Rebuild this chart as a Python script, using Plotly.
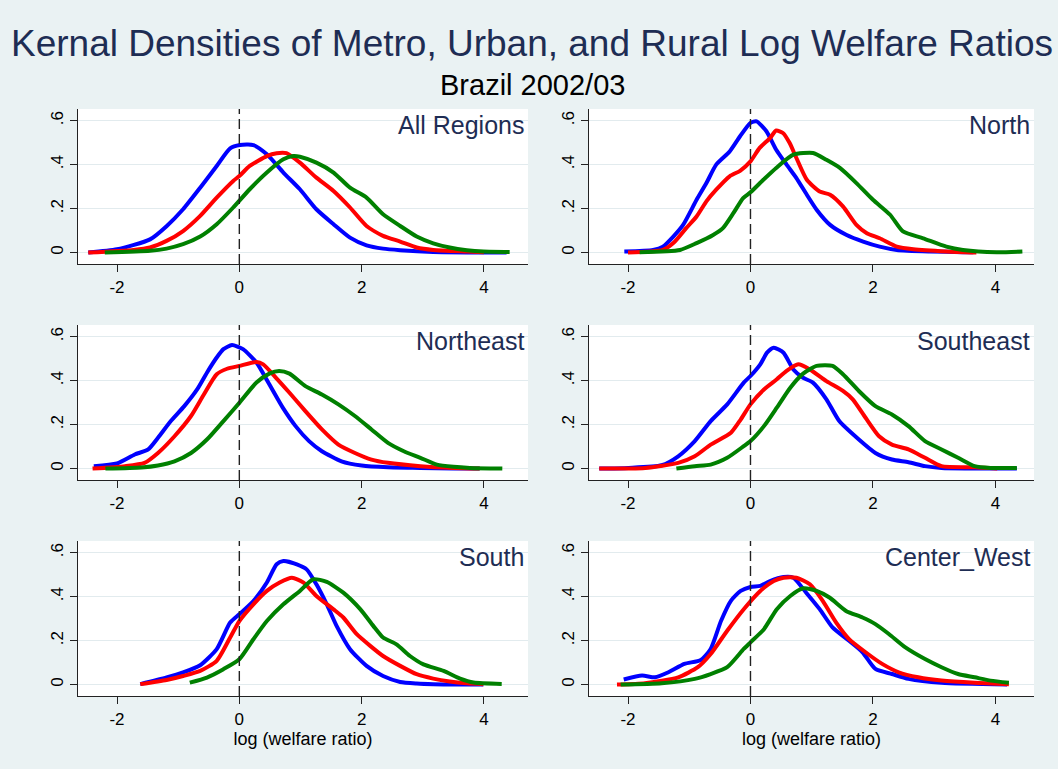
import plotly.graph_objects as go

# ---- data (x = log welfare ratio, y = density) ----
# All Regions
all_metro_x = [-2.47, -2.0, -1.46, -1.19, -0.92, -0.64, -0.37, -0.15, 0.01, 0.23, 0.45, 0.72, 0.99, 1.26, 1.54, 1.81, 2.08, 2.35, 2.63, 3.17, 4.37]
all_metro_y = [0.0, 0.015, 0.06, 0.12, 0.197, 0.295, 0.394, 0.474, 0.489, 0.489, 0.447, 0.364, 0.288, 0.197, 0.129, 0.068, 0.033, 0.018, 0.011, 0.003, 0.0]
all_urban_x = [-2.47, -1.73, -1.46, -1.19, -0.92, -0.64, -0.37, -0.1, 0.0, 0.17, 0.45, 0.61, 0.77, 0.99, 1.26, 1.54, 1.81, 2.08, 2.35, 2.63, 2.9, 3.17, 3.72, 4.0]
all_urban_y = [0.0, 0.012, 0.023, 0.053, 0.098, 0.167, 0.25, 0.326, 0.348, 0.394, 0.439, 0.452, 0.452, 0.409, 0.341, 0.28, 0.205, 0.121, 0.076, 0.05, 0.023, 0.012, 0.005, 0.002]
all_rural_x = [-2.2, -1.46, -1.19, -0.92, -0.64, -0.37, -0.1, 0.17, 0.45, 0.72, 0.88, 0.99, 1.26, 1.54, 1.81, 2.08, 2.35, 2.63, 2.9, 3.17, 3.44, 3.72, 3.99, 4.42]
all_rural_y = [0.0, 0.008, 0.018, 0.038, 0.073, 0.129, 0.205, 0.288, 0.364, 0.424, 0.439, 0.436, 0.409, 0.364, 0.295, 0.25, 0.174, 0.121, 0.073, 0.042, 0.023, 0.011, 0.005, 0.003]

# North
north_metro_x = [-2.06, -1.59, -1.43, -1.26, -1.1, -0.88, -0.72, -0.56, -0.34, -0.17, 0.0, 0.1, 0.26, 0.42, 0.59, 0.75, 0.92, 1.08, 1.3, 1.57, 1.84, 2.11, 2.39, 2.93, 3.47, 3.64]
north_metro_y = [0.005, 0.012, 0.027, 0.073, 0.126, 0.24, 0.316, 0.4, 0.46, 0.529, 0.59, 0.597, 0.552, 0.468, 0.4, 0.339, 0.263, 0.195, 0.126, 0.08, 0.05, 0.027, 0.012, 0.005, 0.002, 0.001]
north_urban_x = [-2.0, -1.43, -1.26, -1.05, -0.88, -0.72, -0.56, -0.34, -0.17, 0.0, 0.15, 0.32, 0.42, 0.53, 0.64, 0.75, 0.92, 1.13, 1.3, 1.51, 1.73, 1.9, 2.11, 2.39, 2.66, 3.2, 3.69]
north_urban_y = [0.0, 0.012, 0.043, 0.111, 0.164, 0.233, 0.286, 0.347, 0.372, 0.415, 0.476, 0.521, 0.555, 0.544, 0.498, 0.43, 0.331, 0.278, 0.263, 0.21, 0.126, 0.088, 0.065, 0.027, 0.015, 0.005, 0.0]
north_rural_x = [-1.81, -1.15, -0.88, -0.61, -0.45, -0.28, -0.12, 0.0, 0.21, 0.42, 0.7, 1.02, 1.24, 1.46, 1.73, 2.0, 2.28, 2.49, 2.82, 3.2, 3.47, 4.02, 4.44]
north_rural_y = [0.002, 0.012, 0.043, 0.08, 0.111, 0.179, 0.248, 0.274, 0.331, 0.385, 0.445, 0.453, 0.422, 0.385, 0.316, 0.24, 0.172, 0.096, 0.065, 0.027, 0.012, 0.002, 0.005]

# Northeast
ne_metro_x = [-2.38, -2.0, -1.71, -1.49, -1.33, -1.12, -0.9, -0.69, -0.53, -0.37, -0.26, -0.12, 0.06, 0.28, 0.49, 0.71, 0.92, 1.14, 1.35, 1.67, 2.0, 2.43, 2.96, 3.5, 3.93]
ne_metro_y = [0.011, 0.023, 0.064, 0.087, 0.14, 0.216, 0.284, 0.36, 0.436, 0.505, 0.543, 0.562, 0.543, 0.482, 0.383, 0.277, 0.193, 0.125, 0.079, 0.033, 0.014, 0.006, 0.003, 0.0, 0.0]
ne_urban_x = [-2.4, -1.87, -1.55, -1.33, -1.06, -0.79, -0.58, -0.37, -0.2, 0.0, 0.28, 0.39, 0.6, 0.82, 1.08, 1.35, 1.62, 1.89, 2.16, 2.43, 2.96, 3.5, 3.93]
ne_urban_y = [0.0, 0.011, 0.026, 0.071, 0.147, 0.239, 0.337, 0.429, 0.454, 0.467, 0.485, 0.474, 0.413, 0.345, 0.261, 0.178, 0.109, 0.071, 0.041, 0.026, 0.011, 0.003, 0.0]
ne_rural_x = [-2.19, -1.6, -1.33, -1.06, -0.79, -0.53, -0.26, 0.0, 0.28, 0.49, 0.65, 0.82, 1.08, 1.35, 1.62, 1.89, 2.16, 2.43, 2.69, 2.96, 3.23, 3.5, 3.77, 4.3]
ne_rural_y = [0.0, 0.005, 0.014, 0.033, 0.071, 0.132, 0.216, 0.299, 0.391, 0.432, 0.444, 0.432, 0.375, 0.337, 0.292, 0.239, 0.178, 0.117, 0.079, 0.049, 0.018, 0.008, 0.003, 0.0]

# Southeast
se_metro_x = [-2.47, -1.99, -1.45, -1.18, -0.91, -0.65, -0.38, -0.11, 0.0, 0.16, 0.27, 0.38, 0.54, 0.7, 0.86, 1.02, 1.24, 1.45, 1.77, 2.04, 2.31, 2.58, 2.85, 3.12, 4.35]
se_metro_y = [0.0, 0.003, 0.015, 0.056, 0.125, 0.216, 0.292, 0.391, 0.421, 0.474, 0.527, 0.55, 0.527, 0.451, 0.413, 0.391, 0.315, 0.216, 0.132, 0.071, 0.041, 0.029, 0.011, 0.003, 0.0]
se_urban_x = [-2.47, -1.72, -1.18, -0.91, -0.65, -0.32, -0.16, 0.0, 0.22, 0.43, 0.59, 0.78, 0.97, 1.24, 1.51, 1.67, 1.88, 2.1, 2.31, 2.58, 2.85, 3.12, 3.66, 4.03]
se_urban_y = [0.0, 0.003, 0.026, 0.056, 0.109, 0.163, 0.223, 0.292, 0.36, 0.406, 0.444, 0.474, 0.451, 0.398, 0.353, 0.315, 0.231, 0.147, 0.109, 0.087, 0.049, 0.011, 0.006, 0.0]
se_rural_x = [-1.21, -0.91, -0.65, -0.38, -0.11, 0.0, 0.22, 0.43, 0.65, 0.86, 1.08, 1.34, 1.51, 1.77, 2.04, 2.31, 2.58, 2.85, 3.12, 3.39, 3.66, 3.92, 4.35]
se_rural_y = [0.0, 0.011, 0.018, 0.049, 0.102, 0.125, 0.193, 0.277, 0.368, 0.432, 0.467, 0.467, 0.429, 0.353, 0.284, 0.246, 0.193, 0.125, 0.087, 0.049, 0.011, 0.003, 0.003]

# South
s_metro_x = [-1.62, -1.19, -0.92, -0.64, -0.37, -0.15, 0.0, 0.23, 0.45, 0.61, 0.72, 0.94, 1.1, 1.26, 1.43, 1.59, 1.81, 2.08, 2.35, 2.63, 2.9, 3.17, 3.99]
s_metro_y = [0.002, 0.032, 0.055, 0.088, 0.161, 0.282, 0.32, 0.38, 0.464, 0.547, 0.562, 0.547, 0.524, 0.456, 0.365, 0.267, 0.161, 0.085, 0.039, 0.012, 0.005, 0.002, 0.0]
s_urban_x = [-1.62, -1.19, -0.92, -0.64, -0.37, -0.15, 0.0, 0.23, 0.45, 0.66, 0.86, 1.05, 1.26, 1.54, 1.7, 1.92, 2.14, 2.35, 2.63, 2.9, 3.17, 3.44, 3.72, 3.99]
s_urban_y = [0.002, 0.021, 0.039, 0.062, 0.108, 0.214, 0.289, 0.365, 0.426, 0.464, 0.486, 0.464, 0.403, 0.342, 0.305, 0.229, 0.176, 0.13, 0.085, 0.047, 0.027, 0.014, 0.006, 0.002]
s_rural_x = [-0.81, -0.53, -0.26, 0.0, 0.23, 0.45, 0.72, 0.99, 1.21, 1.43, 1.7, 1.98, 2.19, 2.35, 2.57, 2.79, 3.01, 3.34, 3.61, 3.83, 4.29]
s_rural_y = [0.009, 0.032, 0.07, 0.115, 0.206, 0.289, 0.365, 0.426, 0.479, 0.467, 0.418, 0.342, 0.267, 0.214, 0.183, 0.13, 0.092, 0.062, 0.027, 0.009, 0.003]

# Center_West
cw_metro_x = [-2.07, -1.77, -1.56, -1.34, -1.08, -0.81, -0.65, -0.48, -0.32, -0.16, 0.0, 0.16, 0.32, 0.54, 0.7, 0.91, 1.13, 1.34, 1.61, 1.83, 2.04, 2.31, 2.58, 3.12, 4.19]
cw_metro_y = [0.023, 0.041, 0.033, 0.056, 0.094, 0.112, 0.162, 0.29, 0.381, 0.426, 0.444, 0.449, 0.471, 0.489, 0.486, 0.418, 0.343, 0.26, 0.199, 0.147, 0.071, 0.048, 0.026, 0.008, 0.0]
cw_urban_x = [-2.18, -1.72, -1.18, -0.86, -0.65, -0.38, -0.11, 0.16, 0.38, 0.54, 0.75, 0.97, 1.18, 1.4, 1.61, 1.88, 2.15, 2.42, 2.74, 3.12, 3.66, 4.22]
cw_urban_y = [0.0, 0.006, 0.033, 0.079, 0.139, 0.245, 0.343, 0.426, 0.471, 0.486, 0.486, 0.456, 0.381, 0.282, 0.207, 0.147, 0.094, 0.056, 0.033, 0.018, 0.008, 0.002]
cw_rural_x = [-2.12, -1.45, -0.91, -0.65, -0.38, -0.11, 0.0, 0.22, 0.43, 0.65, 0.86, 1.08, 1.29, 1.56, 1.83, 2.04, 2.26, 2.53, 2.85, 3.12, 3.39, 3.66, 3.92, 4.22]
cw_rural_y = [0.0, 0.006, 0.026, 0.048, 0.079, 0.162, 0.192, 0.252, 0.343, 0.403, 0.438, 0.426, 0.396, 0.335, 0.305, 0.275, 0.23, 0.169, 0.116, 0.079, 0.048, 0.033, 0.018, 0.008]

panel_names = ["All Regions", "North", "Northeast", "Southeast", "South", "Center_West"]
panels = [
    (all_metro_x, all_metro_y, all_urban_x, all_urban_y, all_rural_x, all_rural_y),
    (north_metro_x, north_metro_y, north_urban_x, north_urban_y, north_rural_x, north_rural_y),
    (ne_metro_x, ne_metro_y, ne_urban_x, ne_urban_y, ne_rural_x, ne_rural_y),
    (se_metro_x, se_metro_y, se_urban_x, se_urban_y, se_rural_x, se_rural_y),
    (s_metro_x, s_metro_y, s_urban_x, s_urban_y, s_rural_x, s_rural_y),
    (cw_metro_x, cw_metro_y, cw_urban_x, cw_urban_y, cw_rural_x, cw_rural_y),
]
line_colors = ["#0000ff", "#ff0000", "#008000"]  # metro, urban, rural
x_ticks = [-2, 0, 2, 4]
x_ticktext = ["-2", "0", "2", "4"]
y_ticks = [0, 0.2, 0.4, 0.6]
y_ticktext = ["0", ".2", ".4", ".6"]

W, H = 1058, 769
BG = "#eaf2f3"
FONT = "Liberation Sans, Arial, sans-serif"
NAVY = "#1e2d54"

# pixel boxes of the plot regions
col_px = [(78, 528), (589, 1034)]
row_px = [(109, 264), (325, 480), (541, 696)]
col_xrange = [[-2.638, 4.72], [-2.637, 4.63]]

fig = go.Figure()
layout = dict(
    width=W, height=H, paper_bgcolor=BG, plot_bgcolor="white",
    margin=dict(l=0, r=0, t=0, b=0), showlegend=False,
    font=dict(family=FONT, size=17, color="black"),
)
shapes = []
annotations = []

for i, (name, data) in enumerate(zip(panel_names, panels)):
    r, c = divmod(i, 2)
    n = i + 1
    xa = "x" if n == 1 else f"x{n}"
    ya = "y" if n == 1 else f"y{n}"
    for k in range(3):
        fig.add_trace(go.Scatter(
            x=data[2 * k], y=data[2 * k + 1], mode="lines",
            line=dict(color=line_colors[k], width=4, shape="spline", smoothing=0.6),
            xaxis=xa, yaxis=ya, hoverinfo="skip",
        ))
    x0, x1 = col_px[c]
    y0, y1 = row_px[r]
    layout[f"xaxis{'' if n == 1 else n}"] = dict(
        domain=[x0 / W, x1 / W], anchor=ya, range=col_xrange[c],
        tickvals=x_ticks, ticktext=x_ticktext, ticks="outside", ticklen=7, tickcolor="#222",
        showline=True, linecolor="#222", linewidth=1.3, showgrid=False,
        zeroline=False, tickfont=dict(size=17, color="black"), automargin=False,
        title=dict(text="log (welfare ratio)" if r == 2 else "",
                   font=dict(size=18, color="black"), standoff=0),
    )
    layout[f"yaxis{'' if n == 1 else n}"] = dict(
        domain=[1 - y1 / H, 1 - y0 / H], anchor=xa, range=[-0.052, 0.653],
        tickvals=y_ticks, ticktext=y_ticktext, tickangle=-90,
        ticks="outside", ticklen=7, tickcolor="#222",
        showline=True, linecolor="#222", linewidth=1.3,
        showgrid=True, gridcolor="#e2ebee", gridwidth=1.2, zeroline=False,
        tickfont=dict(size=17, color="black"), automargin=False,
    )
    shapes.append(dict(type="line", xref=xa, yref=f"{ya} domain", x0=0, x1=0, y0=0, y1=1,
                       line=dict(color="#222", width=1.4, dash="10px,5px")))
    annotations.append(dict(text=name, xref=f"{xa} domain", yref=f"{ya} domain",
                            x=0.995, y=1, xanchor="right", yanchor="top", yshift=0,
                            showarrow=False, font=dict(size=25, color=NAVY)))

annotations.append(dict(text="Kernal Densities of Metro, Urban, and Rural Log Welfare Ratios",
                        xref="paper", yref="paper", x=532 / W, y=1 - 43 / H,
                        xanchor="center", yanchor="middle", showarrow=False,
                        font=dict(size=37, color=NAVY)))
annotations.append(dict(text="Brazil 2002/03", xref="paper", yref="paper",
                        x=532 / W, y=1 - 85 / H, xanchor="center", yanchor="middle",
                        showarrow=False, font=dict(size=29, color="black")))

layout["shapes"] = shapes
layout["annotations"] = annotations
fig.update_layout(**layout)

# drop the page's default body margin so the figure sits at the window's corner
fig.write_html("out.html", config={"displayModeBar": False},
               post_script="document.body.style.margin='0px';")
